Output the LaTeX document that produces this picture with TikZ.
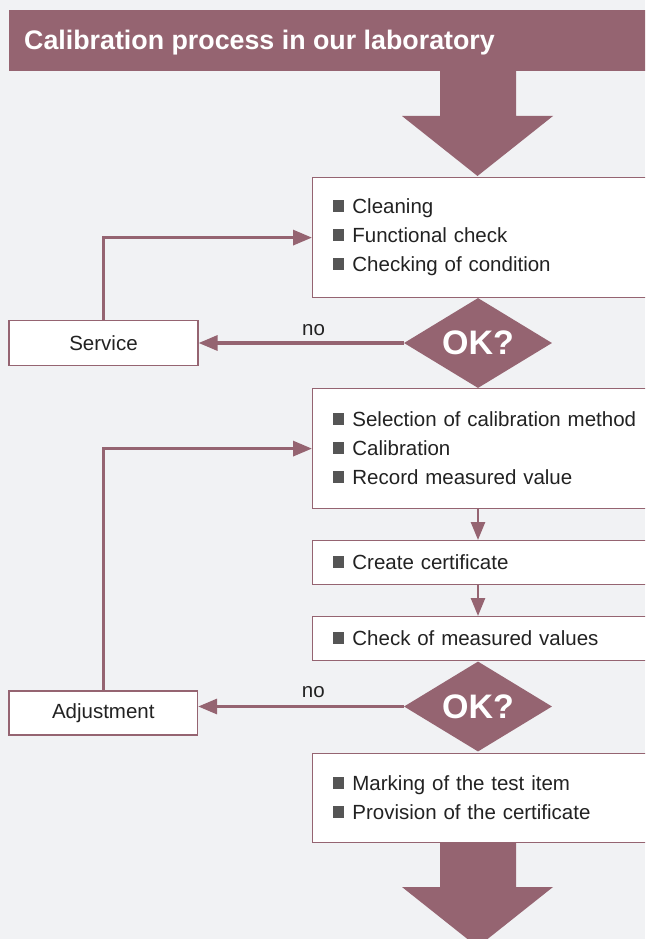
\documentclass[tikz,border=0pt]{standalone}
\usepackage{fontspec}
\setmainfont{Liberation Sans}
\usetikzlibrary{arrows.meta,shapes.geometric}
\definecolor{mauve}{HTML}{956471}
\definecolor{bg}{HTML}{F1F2F4}
\definecolor{txt}{HTML}{222222}
\definecolor{bul}{HTML}{555555}
\newcommand{\itm}{{\color{bul}\rule[2pt]{11.8pt}{11.8pt}}\hspace{8pt}}
\begin{document}
\begin{tikzpicture}[x=1pt,y=-1pt,
  stepbox/.style={draw=mauve, line width=1.2pt, fill=white, anchor=north west,
    minimum width=360, text width=320, inner xsep=17, inner ysep=0, align=left,
    text=txt, font=\fontsize{20.5}{29}\selectfont},
  sidebox/.style={draw=mauve, line width=1.2pt, fill=white, inner sep=0,
    text=txt, font=\fontsize{20.5}{24}\selectfont},
  okdiamond/.style={diamond, aspect=1.64, minimum width=148, minimum height=90,
    inner sep=0, fill=mauve, text=white, font=\bfseries\fontsize{34}{34}\selectfont},
  fb/.style={draw=mauve, line width=3.2pt, -{Triangle[length=19pt,width=15pt]}},
  down/.style={draw=mauve, line width=2.6pt, -{Triangle[length=18pt,width=14pt]}},
  nolabel/.style={anchor=base, inner sep=0, text=txt, font=\fontsize{20.5}{24}\selectfont}
]
\useasboundingbox (0,0) rectangle (645,939);
\clip (0,0) rectangle (645,939);
\fill[bg] (0,0) rectangle (645,939);

% header
\node[fill=mauve, minimum width=660, minimum height=61, anchor=north west, inner sep=0] (hdr) at (9,10) {};
\node[anchor=base west, inner sep=0, text=white, font=\bfseries\fontsize{26.8}{30}\selectfont] (ttl) at (24,50) {Calibration process in our laboratory};

% boxes
\node[stepbox, minimum height=120] (b1) at (312,177) {\itm Cleaning\\ \itm Functional check\\ \itm Checking of condition};
\node[okdiamond] (d1) at (478,343) {OK?};
\node[stepbox, minimum height=120] (b2) at (312,388) {\itm Selection of calibration method\\ \itm Calibration\\ \itm Record measured value};
\node[stepbox, minimum height=44] (b3) at (312,540) {\itm Create certificate};
\node[stepbox, minimum height=44] (b4) at (312,616) {\itm Check of measured values};
\node[okdiamond] (d2) at (478,706.5) {OK?};
\node[stepbox, minimum height=89] (b5) at (312,753) {\itm Marking of the test item\\ \itm Provision of the certificate};

\node[sidebox, minimum width=189, minimum height=45] (srv) at (103.5,343) {Service};
\node[sidebox, minimum width=188.5, minimum height=44] (adj) at (103.3,713) {Adjustment};

% big arrows
\fill[mauve] (440,71) -- (516,71) -- (516,116) -- (553,116) -- (477.5,176) -- (402,116) -- (440,116) -- cycle;
\fill[mauve] (440,842) -- (516,842) -- (516,887) -- (553,887) -- (477.5,947) -- (402,887) -- (440,887) -- cycle;

% connectors
\draw[fb] (d1.west) -- (d1.west -| srv.east) node[nolabel, pos=0.44, yshift=8pt] {no};
\draw[fb] (srv.north) |- (b1.west);
\draw[fb] (d2.west) -- (d2.west -| adj.east) node[nolabel, pos=0.44, yshift=9pt] {no};
\draw[fb] (adj.north) |- (b2.west);
\draw[down] (d1 |- b2.south) -- (d1 |- b3.north);
\draw[down] (d1 |- b3.south) -- (d1 |- b4.north);
\end{tikzpicture}
\end{document}
